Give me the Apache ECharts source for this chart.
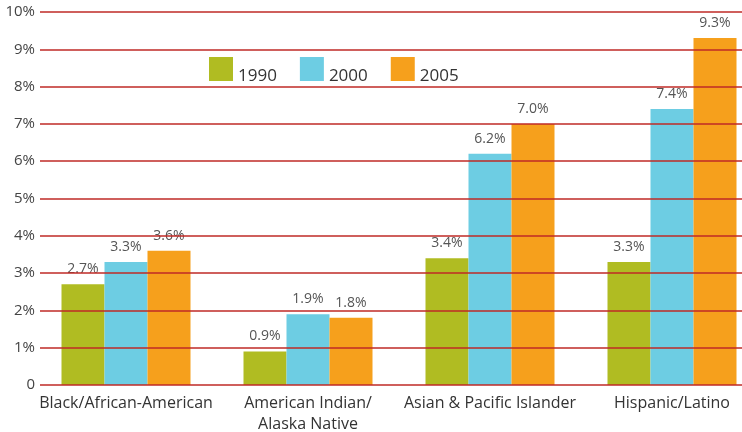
<!DOCTYPE html>
<html>
<head>
<meta charset="utf-8">
<script src="https://cdn.jsdelivr.net/npm/echarts@6/dist/echarts.min.js"></script>
<style>
  html, body { margin: 0; padding: 0; background: #fff; }
  #chart { width: 742px; height: 432px; }
</style>
</head>
<body>
<div id="chart"></div>
<script>
var categories = ['Black/African-American', 'American Indian/\nAlaska Native', 'Asian & Pacific Islander', 'Hispanic/Latino'];
var years = ['1990', '2000', '2005'];
var values1990 = [2.7, 0.9, 3.4, 3.3];
var values2000 = [3.3, 1.9, 6.2, 7.4];
var values2005 = [3.6, 1.8, 7.0, 9.3];
var yTicks = ['0', '1%', '2%', '3%', '4%', '5%', '6%', '7%', '8%', '9%', '10%'];
var colors = ['#b0bc22', '#6dcde3', '#f6a01c'];

var font = 'Open Sans';

function barSeries(name, data, color) {
    return {
        name: name,
        type: 'bar',
        xAxisIndex: 0,
        yAxisIndex: 0,
        data: data,
        barWidth: 43,
        barGap: '0%',
        itemStyle: { color: color },
        label: {
            show: true,
            position: 'top',
            distance: 8,
            color: '#555',
            fontFamily: font,
            fontSize: 14,
            formatter: function(p) { return p.value.toFixed(1) + '%'; }
        },
        z: 2
    };
}

var option = {
    animation: false,
    backgroundColor: '#fff',
    color: colors,
    legend: {
        left: 209,
        top: 57,
        padding: 0,
        itemWidth: 24,
        itemHeight: 24,
        itemGap: 23,
        icon: 'rect',
        data: years,
        formatter: '{t|{name}}',
        textStyle: {
            color: '#333',
            fontFamily: font,
            fontSize: 16,
            rich: {
                t: {
                    color: '#333',
                    fontFamily: font,
                    fontSize: 17,
                    padding: [14, 0, 0, 0]
                }
            }
        },
        itemStyle: { borderWidth: 0 }
    },
    grid: [
        // bars
        { left: 35, width: 728, top: 12, height: 373, outerBoundsMode: 'none', containLabel: false },
        // gridlines + y labels
        { left: 40, right: 0, top: 12, height: 373, outerBoundsMode: 'none', containLabel: false }
    ],
    xAxis: [{
        type: 'category',
        gridIndex: 0,
        data: categories,
        axisLine: { show: false },
        axisTick: { show: false },
        axisLabel: {
            interval: 0,
            color: '#333',
            fontFamily: font,
            fontSize: 16,
            lineHeight: 21,
            margin: 8
        }
    }, {
        type: 'value',
        gridIndex: 1,
        show: false
    }],
    yAxis: [{
        type: 'value',
        gridIndex: 0,
        min: 0,
        max: 10,
        interval: 1,
        show: false
    }, {
        type: 'value',
        gridIndex: 1,
        min: 0,
        max: 10,
        interval: 1,
        z: 5,
        axisLine: { show: false },
        axisTick: { show: false },
        axisLabel: {
            color: '#444',
            fontFamily: font,
            fontSize: 15,
            margin: 5,
            formatter: function(v) { return yTicks[v]; }
        },
        splitLine: {
            show: true,
            lineStyle: { color: '#bf2a26', width: 1.6 }
        }
    }],
    series: [
        barSeries(years[0], values1990, colors[0]),
        barSeries(years[1], values2000, colors[1]),
        barSeries(years[2], values2005, colors[2])
    ]
};

var myChart = echarts.init(document.getElementById('chart'));
myChart.setOption(option);
</script>
</body>
</html>
